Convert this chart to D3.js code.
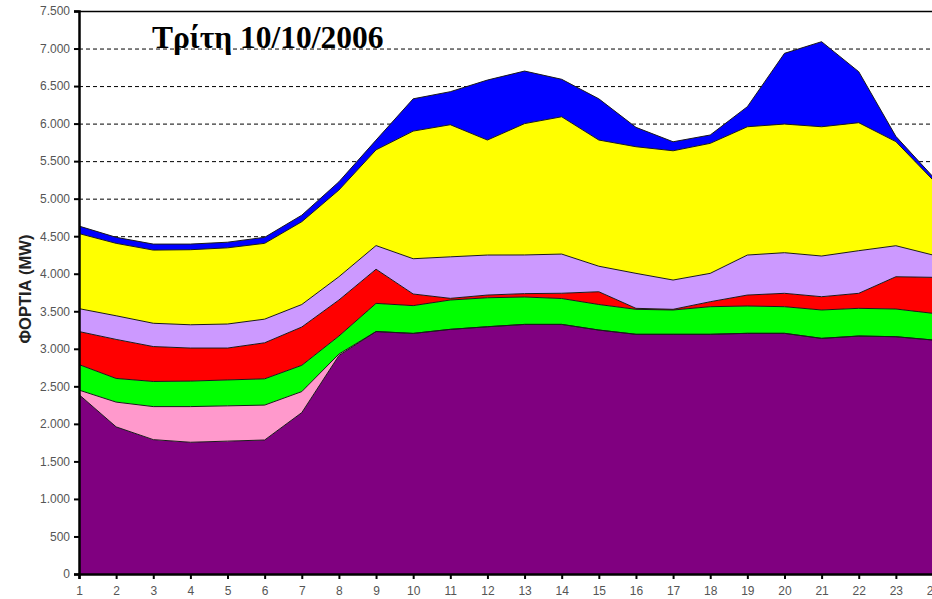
<!DOCTYPE html>
<html>
<head>
<meta charset="utf-8">
<script src="https://cdn.jsdelivr.net/npm/d3@7"></script>
<style>
  html, body { margin: 0; padding: 0; background: #fff; }
  svg { display: block; }
</style>
</head>
<body>
<svg id="chart" width="932" height="599"></svg>
<script>
// ---- data ----
const hours = [1,2,3,4,5,6,7,8,9,10,11,12,13,14,15,16,17,18,19,20,21,22,23,24];
const seriesNames = ["s1","s2","s3","s4","s5","s6","s7"];
const s1 = [2390,1960,1790,1755,1770,1785,2150,2910,3230,3205,3259,3294,3325,3325,3250,3193,3193,3193,3206,3206,3139,3170,3161,3117];
const s2 = [60,330,440,475,470,465,280,20,0,0,0,0,0,0,0,0,0,0,0,0,0,0,0,0];
const s3 = [340,315,335,340,345,350,350,240,375,370,391,386,365,345,340,333,324,368,364,355,378,369,369,355];
const s4 = [440,520,465,440,425,480,510,480,455,155,22,36,45,70,170,13,9,66,146,178,177,200,430,480];
const s5 = [305,315,310,310,320,315,300,310,315,470,553,533,515,522,340,466,390,378,533,541,542,568,413,297];
const s6 = [1000,965,975,1000,1015,1010,1103,1155,1275,1700,1760,1532,1750,1829,1681,1687,1722,1732,1709,1714,1722,1705,1387,999];
const s7 = [100,80,80,75,75,80,87,110,130,430,440,799,700,499,549,258,120,111,267,942,1133,679,70,44];
const seriesColors = ["#800080","#ff99cc","#00ff00","#ff0000","#cc99ff","#ffff00","#0000ff"];
const yTicks = [0,500,1000,1500,2000,2500,3000,3500,4000,4500,5000,5500,6000,6500,7000,7500];
const titleText = "Τρίτη 10/10/2006";
const yTitle = "ΦΟΡΤΙΑ (MW)";

const table = hours.map((h, i) => ({
  hour: h, s1: s1[i], s2: s2[i], s3: s3[i], s4: s4[i], s5: s5[i], s6: s6[i], s7: s7[i]
}));

// ---- layout ----
const svg = d3.select("#chart");
const x = d3.scaleLinear().domain([1, 24]).range([79, 933]);
const y = d3.scaleLinear().domain([0, 7500]).range([574, 11]);

const fmt = v => d3.format(",")(v).replace(/,/g, ".");

// gridlines
svg.append("g").selectAll("line")
  .data(yTicks.filter(t => t > 0 && t < 7500))
  .join("line")
  .attr("x1", x(1)).attr("x2", 932)
  .attr("y1", d => y(d) + 0.5).attr("y2", d => y(d) + 0.5)
  .attr("stroke", "#000").attr("stroke-width", 1)
  .attr("stroke-dasharray", "4,3");

// top frame
svg.append("line")
  .attr("x1", x(1)).attr("x2", 932)
  .attr("y1", y(7500) + 0.5).attr("y2", y(7500) + 0.5)
  .attr("stroke", "#000").attr("stroke-width", 1.5);

// stacked areas
const stack = d3.stack().keys(seriesNames);
const layers = stack(table);
const area = d3.area()
  .x(d => x(d.data.hour))
  .y0(d => y(d[0]))
  .y1(d => y(d[1]));
const topLine = d3.line()
  .x(d => x(d.data.hour))
  .y(d => y(d[1]));

const g = svg.append("g");
g.selectAll("path.area")
  .data(layers)
  .join("path")
  .attr("class", "area")
  .attr("d", area)
  .attr("fill", (d, i) => seriesColors[i]);
g.selectAll("path.edge")
  .data(layers)
  .join("path")
  .attr("class", "edge")
  .attr("d", topLine)
  .attr("fill", "none")
  .attr("stroke", "#1a1a1a")
  .attr("stroke-width", 1);

// axes
const yAxis = d3.axisLeft(y).tickValues(yTicks).tickFormat(fmt).tickSize(5).tickPadding(4);
const gy = svg.append("g").attr("transform", `translate(${x(1)},0)`).call(yAxis);
gy.select(".domain").attr("stroke", "#000").attr("stroke-width", 2.5);
gy.selectAll(".tick line").attr("stroke", "#000").attr("stroke-width", 2);
gy.selectAll("text").attr("fill", "#555").style("font-family", "Arial, 'Liberation Sans', sans-serif").style("font-size", "12px");

const xAxis = d3.axisBottom(x).tickValues(hours).tickFormat(d => d).tickSize(5).tickPadding(7);
const gx = svg.append("g").attr("transform", `translate(0,${y(0)})`).call(xAxis);
gx.select(".domain").attr("stroke", "#000").attr("stroke-width", 2.5);
gx.selectAll(".tick line").attr("stroke", "#000").attr("stroke-width", 2);
gx.selectAll("text").attr("fill", "#555").style("font-family", "Arial, 'Liberation Sans', sans-serif").style("font-size", "12px");

// title
svg.append("text")
  .attr("x", 152).attr("y", 48)
  .style("font-family", "'Times New Roman', 'Liberation Serif', serif")
  .style("font-weight", "bold").style("font-size", "31.5px")
  .attr("fill", "#000")
  .text(titleText);

// y axis title
svg.append("text")
  .attr("transform", "translate(31,289) rotate(-90)")
  .attr("text-anchor", "middle")
  .style("font-family", "Arial, 'Liberation Sans', sans-serif")
  .style("font-weight", "bold").style("font-size", "16.5px")
  .attr("fill", "#222")
  .text(yTitle);
</script>
</body>
</html>
